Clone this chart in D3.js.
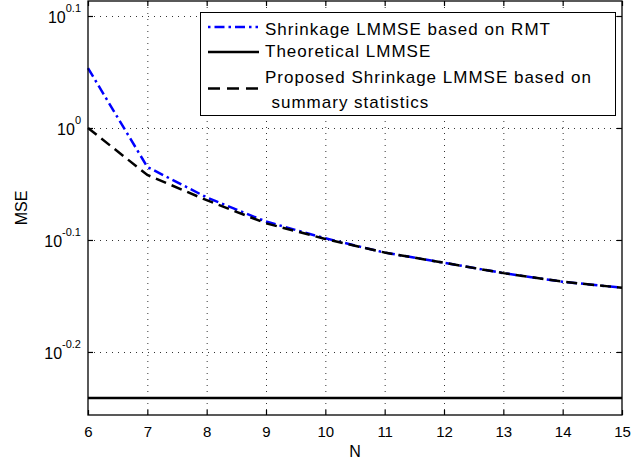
<!DOCTYPE html>
<html><head><meta charset="utf-8">
<script src="https://cdn.jsdelivr.net/npm/d3@7"></script>
<style>body{margin:0;background:#fff} svg{display:block} text{font-family:"Liberation Sans",Arial,sans-serif;fill:#000}</style>
</head><body><svg id="c" width="633" height="463"></svg>
<script>
// ---- data ----
const N = [6, 7, 8, 9, 10, 11, 12, 13, 14, 15];
const rmtMSE = [1.131, 0.923, 0.867, 0.825, 0.797, 0.774, 0.758, 0.742, 0.729, 0.720];
const proposedMSE = [1.0, 0.908, 0.862, 0.822, 0.796, 0.774, 0.758, 0.742, 0.729, 0.720];
const theoreticalMSE = [0.574, 0.574, 0.574, 0.574, 0.574, 0.574, 0.574, 0.574, 0.574, 0.574];
const xTicks = [6, 7, 8, 9, 10, 11, 12, 13, 14, 15];
const yTickExps = [0.1, 0, -0.1, -0.2];
const yTickLabels = ["0.1", "0", "-0.1", "-0.2"];
const legendLabels = ["Shrinkage LMMSE based on RMT", "Theoretical LMMSE", "Proposed Shrinkage LMMSE based on", "summary statistics"];

// ---- layout ----
const L = 88, R = 622, T = 1, B = 415;
const svg = d3.select("#c");
const x = d3.scaleLinear().domain([6, 15]).range([L, R]);
const y = d3.scaleLog().domain([Math.pow(10, -0.2563), Math.pow(10, 0.1134)]).range([B, T]);
const yTicks = yTickExps.map(e => Math.pow(10, e));

// grid
const grid = svg.append("g").attr("stroke", "#333").attr("stroke-width", 1).attr("stroke-dasharray", "1,5");
grid.selectAll(".gx").data(xTicks.slice(1, -1)).enter().append("line")
  .attr("x1", d => x(d) + 0.5).attr("x2", d => x(d) + 0.5).attr("y1", T).attr("y2", B);
grid.selectAll(".gy").data(yTicks).enter().append("line")
  .attr("x1", L).attr("x2", R).attr("y1", d => Math.round(y(d)) + 0.5).attr("y2", d => Math.round(y(d)) + 0.5);

// axes (inward ticks)
const axB = d3.axisBottom(x).tickValues(xTicks).tickSizeInner(-5).tickSizeOuter(0).tickPadding(11).tickFormat(d3.format("d"));
const axT = d3.axisTop(x).tickValues(xTicks).tickSizeInner(-5).tickSizeOuter(0).tickFormat("");
const axL = d3.axisLeft(y).tickValues(yTicks).tickSizeInner(-5).tickSizeOuter(0).tickFormat("");
const axR = d3.axisRight(y).tickValues(yTicks).tickSizeInner(-5).tickSizeOuter(0).tickFormat("");
function style(g) {
  g.select(".domain").remove();
  g.selectAll(".tick line").attr("stroke", "#000").attr("stroke-width", 1.2);
  g.selectAll(".tick text").attr("font-size", 15).attr("font-family", '"Liberation Sans",Arial,sans-serif');
}
svg.append("g").attr("transform", `translate(0,${B})`).call(axB).call(style);
svg.append("g").attr("transform", `translate(0,${T})`).call(axT).call(style);
svg.append("g").attr("transform", `translate(${L},0)`).call(axL).call(style);
svg.append("g").attr("transform", `translate(${R},0)`).call(axR).call(style);

// y tick labels 10^e
const yl = svg.append("g");
yTicks.forEach((v, i) => {
  const t = yl.append("text").attr("x", 81).attr("y", y(v) + 7).attr("text-anchor", "end");
  t.append("tspan").attr("font-size", 16).text("10");
  t.append("tspan").attr("font-size", 11).attr("dy", -11).text(yTickLabels[i]);
});

// lines
const line = d3.line().x((d, i) => x(N[i])).y(d => y(d));
svg.append("path").datum(theoreticalMSE).attr("d", line).attr("fill", "none")
  .attr("stroke", "#000").attr("stroke-width", 2.5);
svg.append("path").datum(rmtMSE).attr("d", line).attr("fill", "none")
  .attr("stroke", "#0000ff").attr("stroke-width", 2.5).attr("stroke-dasharray", "10,4,2.5,4");
svg.append("path").datum(proposedMSE).attr("d", line).attr("fill", "none")
  .attr("stroke", "#000").attr("stroke-width", 2.5).attr("stroke-dasharray", "11,6");

// box
svg.append("rect").attr("x", L).attr("y", T).attr("width", R - L).attr("height", B - T)
  .attr("fill", "none").attr("stroke", "#000").attr("stroke-width", 1.3);

// axis labels
svg.append("text").attr("x", (L + R) / 2).attr("y", 457).attr("text-anchor", "middle").attr("font-size", 16).text("N");
svg.append("text").attr("transform", `translate(27,${(T + B) / 2}) rotate(-90)`).attr("text-anchor", "middle").attr("font-size", 16).text("MSE");

// legend
const lg = svg.append("g");
lg.append("rect").attr("x", 200.5).attr("y", 12.5).attr("width", 415).attr("height", 103)
  .attr("fill", "#fff").attr("stroke", "#000").attr("stroke-width", 1);
lg.append("line").attr("x1", 208).attr("x2", 258).attr("y1", 27).attr("y2", 27)
  .attr("stroke", "#0000ff").attr("stroke-width", 2.5).attr("stroke-dasharray", "2.5,4,10,4");
lg.append("line").attr("x1", 208).attr("x2", 259).attr("y1", 52).attr("y2", 52)
  .attr("stroke", "#000").attr("stroke-width", 2.5);
lg.append("line").attr("x1", 208).attr("x2", 258).attr("y1", 88.5).attr("y2", 88.5)
  .attr("stroke", "#000").attr("stroke-width", 2.5).attr("stroke-dasharray", "12,7");
const lx = [265, 265, 265, 271.5], ly = [35, 57.3, 82.7, 108.3];
legendLabels.forEach((s, i) => {
  lg.append("text").attr("x", lx[i]).attr("y", ly[i]).attr("font-size", 17).attr("letter-spacing", 1).text(s);
});
</script></body></html>
